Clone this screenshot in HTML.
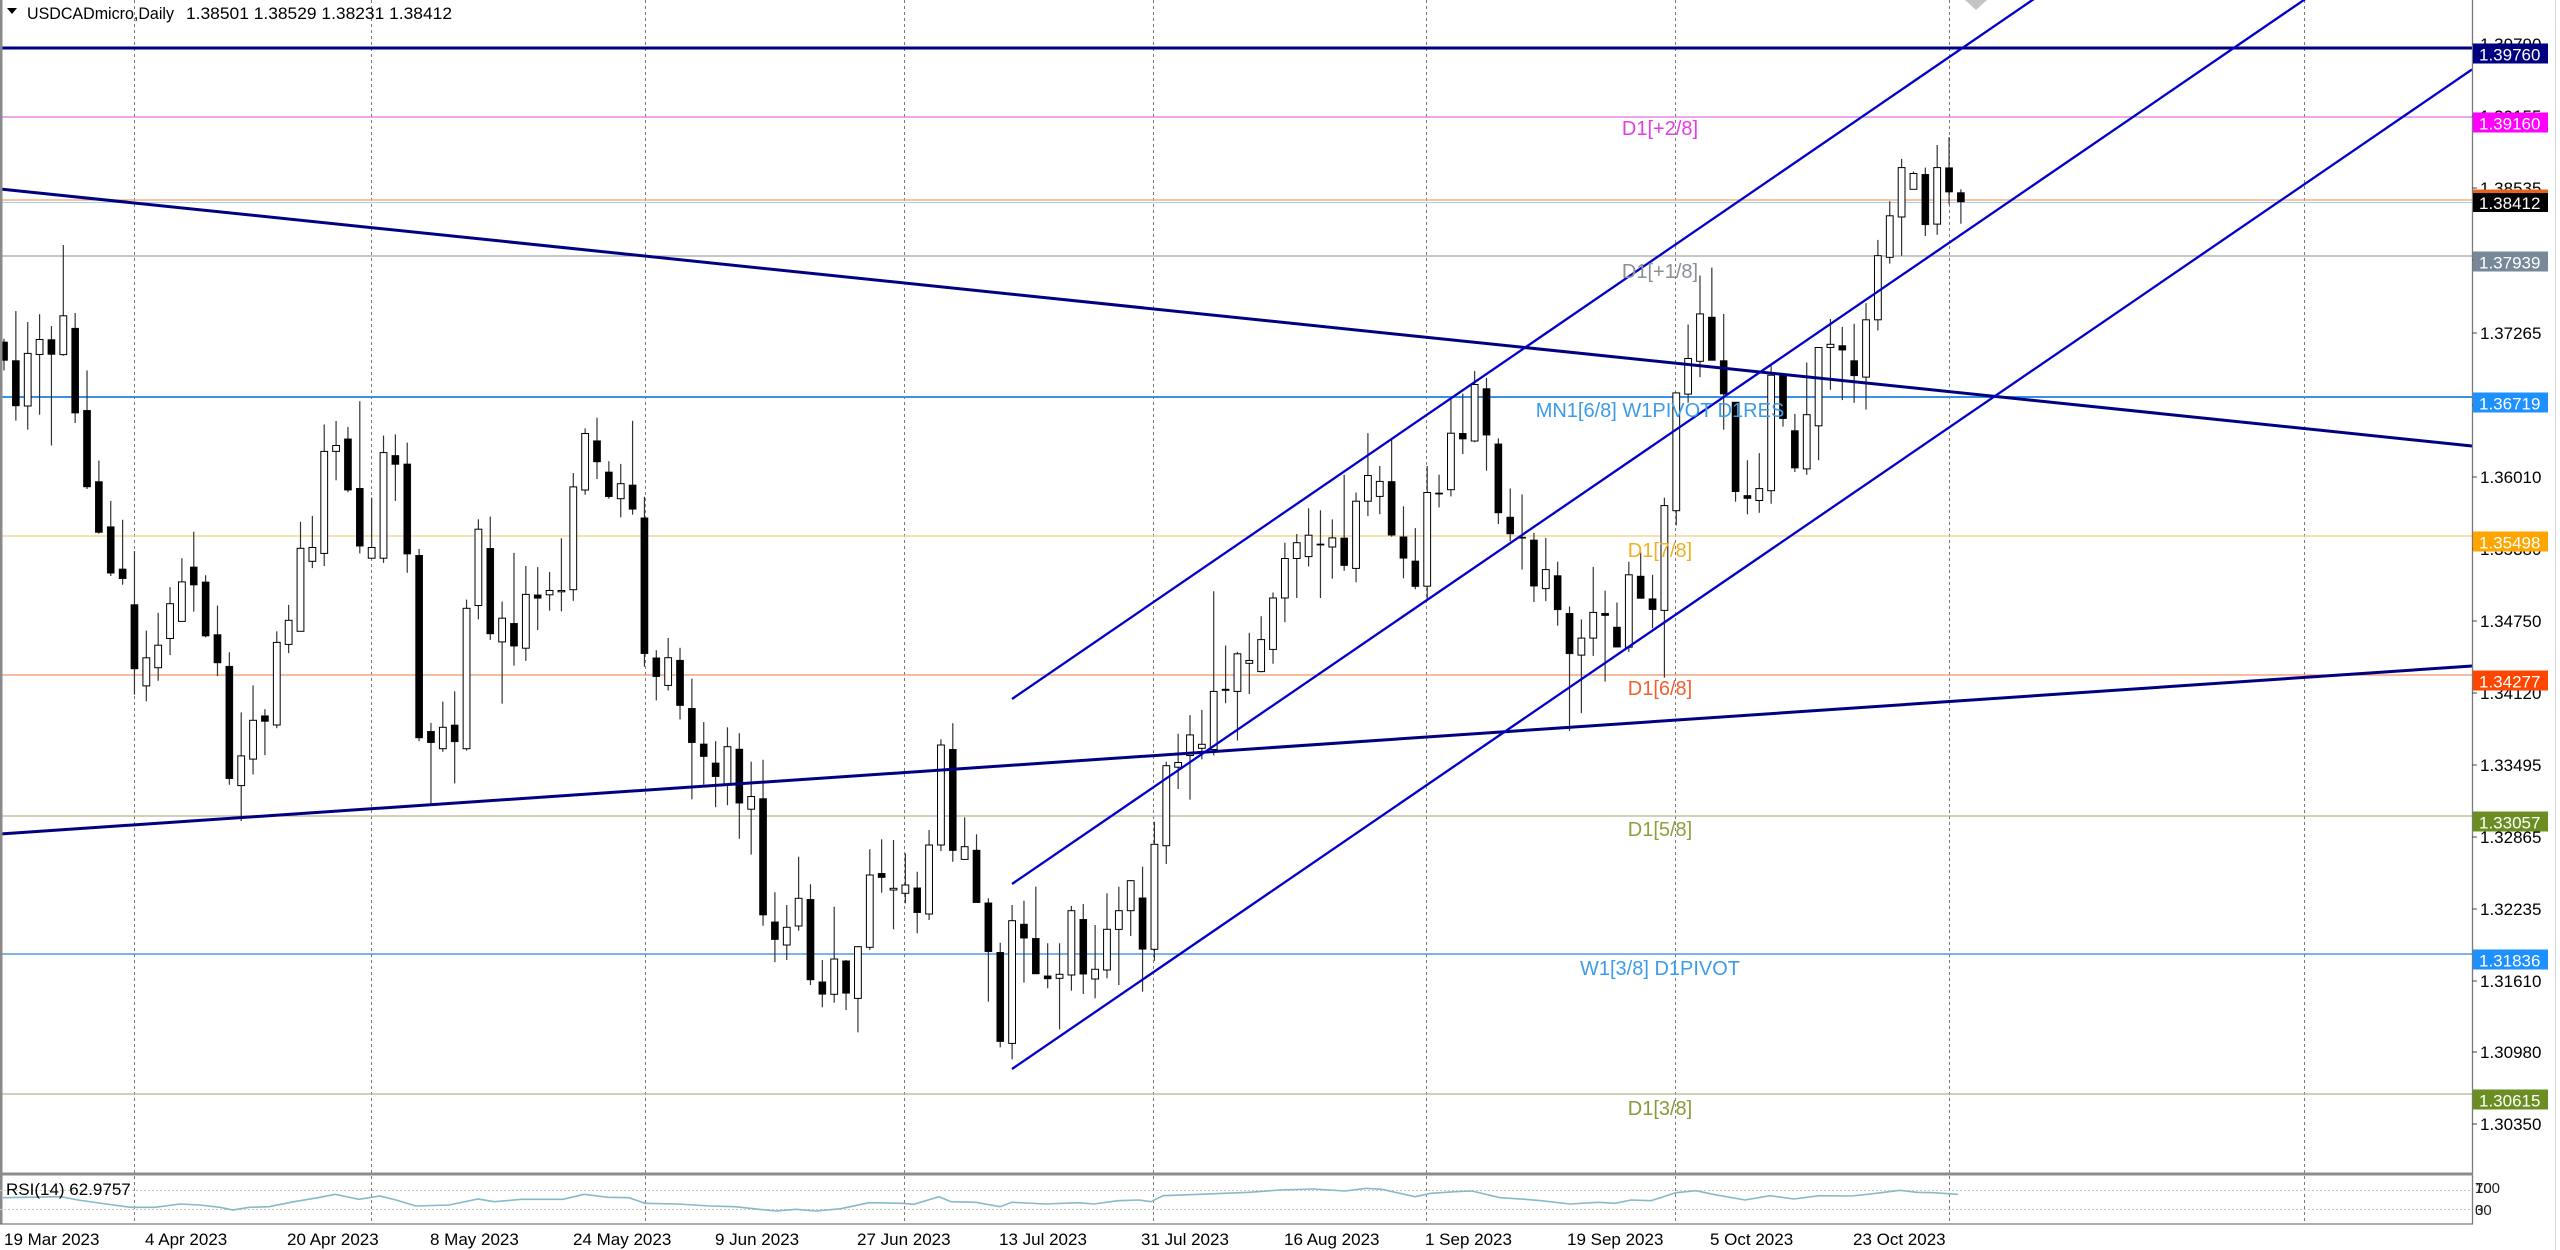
<!DOCTYPE html>
<html><head><meta charset="utf-8"><style>
html,body{margin:0;padding:0;background:#fff;overflow:hidden;width:2560px;height:1250px}
svg{display:block;font-family:"Liberation Sans",Arial,sans-serif}
</style></head><body>
<svg width="2560" height="1250" viewBox="0 0 2560 1250" xmlns="http://www.w3.org/2000/svg">
<rect width="2560" height="1250" fill="#fff"/>
<defs><clipPath id="mc"><rect x="0" y="0" width="2472" height="1172"/></clipPath></defs>

<!-- vertical grid -->
<g stroke="#7a7a7a" stroke-width="1" stroke-dasharray="3,3">
<line x1="134.5" y1="0" x2="134.5" y2="1224"/>
<line x1="371.5" y1="0" x2="371.5" y2="1224"/>
<line x1="645.5" y1="0" x2="645.5" y2="1224"/>
<line x1="904.5" y1="0" x2="904.5" y2="1224"/>
<line x1="1153.5" y1="0" x2="1153.5" y2="1224"/>
<line x1="1426.5" y1="0" x2="1426.5" y2="1224"/>
<line x1="1675.5" y1="0" x2="1675.5" y2="1224"/>
<line x1="1949.5" y1="0" x2="1949.5" y2="1224"/>
<line x1="2304.5" y1="0" x2="2304.5" y2="1224"/>
</g>

<g clip-path="url(#mc)">
<!-- horizontal levels -->
<line x1="0" y1="117" x2="2472" y2="117" stroke="#e070e0" stroke-width="1.2"/>
<line x1="0" y1="200" x2="2472" y2="200" stroke="#f2a070" stroke-width="1.2"/>
<line x1="0" y1="202.5" x2="2472" y2="202.5" stroke="#a8cdef" stroke-width="1"/>
<line x1="0" y1="256" x2="2472" y2="256" stroke="#a4a4a4" stroke-width="1.2"/>
<line x1="0" y1="397" x2="2472" y2="397" stroke="#3a90e6" stroke-width="2"/>
<line x1="0" y1="536" x2="2472" y2="536" stroke="#f0cf80" stroke-width="1.2"/>
<line x1="0" y1="675" x2="2472" y2="675" stroke="#f09468" stroke-width="1.2"/>
<line x1="0" y1="816" x2="2472" y2="816" stroke="#b4b494" stroke-width="1.2"/>
<line x1="0" y1="954" x2="2472" y2="954" stroke="#4a9ae8" stroke-width="1.6"/>
<line x1="0" y1="1094" x2="2472" y2="1094" stroke="#aab890" stroke-width="1.2"/>

<!-- candles -->
<g id="candles" stroke="#333" stroke-width="1.2"></g>

<!-- navy horizontal -->
<line x1="0" y1="48" x2="2472" y2="48" stroke="#000080" stroke-width="3"/>
<!-- long trendlines -->
<line x1="0" y1="189" x2="2472" y2="446" stroke="#000080" stroke-width="3"/>
<line x1="0" y1="834" x2="2472" y2="666" stroke="#000080" stroke-width="3"/>
<!-- channel -->
<g stroke="#0000c8" stroke-width="2.3">
<line x1="1012" y1="699" x2="2050" y2="-12"/>
<line x1="1012" y1="884" x2="2320" y2="-11"/>
<line x1="1012" y1="1069" x2="2472" y2="69.5"/>
</g>
<polygon points="1965,0 1976,10 1987,0" fill="#c4c4c4"/>

<!-- level labels -->
<g font-size="20" text-anchor="middle">
<text x="1660" y="135" fill="#e63ae6">D1[+2/8]</text>
<text x="1660" y="278" fill="#8a9098">D1[+1/8]</text>
<text x="1660" y="417" fill="#3d9be9">MN1[6/8] W1PIVOT D1RES</text>
<text x="1660" y="557" fill="#f0b020">D1[7/8]</text>
<text x="1660" y="695" fill="#f06030">D1[6/8]</text>
<text x="1660" y="836" fill="#8f9f3c">D1[5/8]</text>
<text x="1660" y="975" fill="#3d9be9">W1[3/8] D1PIVOT</text>
<text x="1660" y="1115" fill="#8a9a3a">D1[3/8]</text>
</g>
</g>

<!-- header -->
<polygon points="7,8 17,8 12,14" fill="#000"/>
<text x="27" y="19" font-size="17" fill="#000" textLength="147" lengthAdjust="spacingAndGlyphs">USDCADmicro,Daily</text>
<text x="186" y="19" font-size="17" fill="#000" textLength="266" lengthAdjust="spacingAndGlyphs">1.38501 1.38529 1.38231 1.38412</text>

<!-- borders -->
<rect x="0" y="0" width="2.5" height="1224" fill="#8a8a8a"/>
<line x1="2472.5" y1="0" x2="2472.5" y2="1224" stroke="#7a7a7a" stroke-width="1.3"/>
<line x1="2555.5" y1="0" x2="2555.5" y2="1250" stroke="#d8d8d8" stroke-width="1"/>

<!-- price axis ticks & labels -->
<g stroke="#444" stroke-width="1">
<line x1="2472" y1="44" x2="2477" y2="44"/><line x1="2472" y1="116" x2="2477" y2="116"/>
<line x1="2472" y1="188" x2="2477" y2="188"/><line x1="2472" y1="260" x2="2477" y2="260"/>
<line x1="2472" y1="333" x2="2477" y2="333"/><line x1="2472" y1="405" x2="2477" y2="405"/>
<line x1="2472" y1="477" x2="2477" y2="477"/><line x1="2472" y1="549" x2="2477" y2="549"/>
<line x1="2472" y1="621" x2="2477" y2="621"/><line x1="2472" y1="693" x2="2477" y2="693"/>
<line x1="2472" y1="765" x2="2477" y2="765"/><line x1="2472" y1="837" x2="2477" y2="837"/>
<line x1="2472" y1="909" x2="2477" y2="909"/><line x1="2472" y1="981" x2="2477" y2="981"/>
<line x1="2472" y1="1052" x2="2477" y2="1052"/><line x1="2472" y1="1124" x2="2477" y2="1124"/>
</g>
<g font-size="17" fill="#000">
<text x="2480" y="50">1.39790</text>
<text x="2480" y="122">1.39155</text>
<text x="2480" y="194">1.38535</text>
<text x="2480" y="266">1.37905</text>
<text x="2480" y="339">1.37265</text>
<text x="2480" y="411">1.36640</text>
<text x="2480" y="483">1.36010</text>
<text x="2480" y="555">1.35380</text>
<text x="2480" y="627">1.34750</text>
<text x="2480" y="699">1.34120</text>
<text x="2480" y="771">1.33495</text>
<text x="2480" y="843">1.32865</text>
<text x="2480" y="915">1.32235</text>
<text x="2480" y="987">1.31610</text>
<text x="2480" y="1058">1.30980</text>
<text x="2480" y="1130">1.30350</text>
</g>
<!-- colored price boxes -->
<g font-size="17" fill="#fff">
<rect x="2473" y="43.5" width="75" height="20" fill="#000080"/><text x="2479" y="60.5">1.39760</text>
<rect x="2473" y="112.5" width="75" height="20" fill="#ff00ff"/><text x="2479" y="129.5">1.39160</text>
<rect x="2473" y="189.5" width="75" height="3.5" fill="#e8641e"/>
<rect x="2473" y="193" width="75" height="19" fill="#000"/><text x="2479" y="209">1.38412</text>
<rect x="2473" y="251.5" width="75" height="20" fill="#778899"/><text x="2479" y="268.5">1.37939</text>
<rect x="2473" y="392.5" width="75" height="20" fill="#1e90ff"/><text x="2479" y="409.5">1.36719</text>
<rect x="2473" y="531.5" width="75" height="20" fill="#ffa500"/><text x="2479" y="548.5">1.35498</text>
<rect x="2473" y="670.5" width="75" height="20" fill="#ff4500"/><text x="2479" y="687.5">1.34277</text>
<rect x="2473" y="811.5" width="75" height="20" fill="#6b8e23"/><text x="2479" y="828.5">1.33057</text>
<rect x="2473" y="949.5" width="75" height="20" fill="#1e90ff"/><text x="2479" y="966.5">1.31836</text>
<rect x="2473" y="1089.5" width="75" height="20" fill="#6b8e23"/><text x="2479" y="1106.5">1.30615</text>
</g>

<!-- RSI pane -->
<rect x="0" y="1172.5" width="2473" height="3" fill="#8c8c8c"/>
<line x1="0" y1="1224" x2="2473" y2="1224" stroke="#7a7a7a" stroke-width="1.3"/>
<g stroke="#c8c8c8" stroke-width="1" stroke-dasharray="2,2">
<line x1="0" y1="1190.5" x2="2472" y2="1190.5"/>
<line x1="0" y1="1209.5" x2="2472" y2="1209.5"/>
</g>
<polyline fill="none" stroke="#86b9c9" stroke-width="1.6" points="3,1197.7 61,1196.7 78,1200 106,1204 131,1207.3 155,1207.3 180,1204 200,1205 220,1207.3 233,1210 249,1207.3 269,1206.7 294,1201.7 318,1197.7 335,1194.3 359,1199.3 380,1196 396,1200 416,1206 449,1205 478,1199 494,1201.7 522,1199.3 563,1199.3 584,1194.3 608,1197.3 629,1197.7 645,1203.3 678,1204 710,1206 735,1206.7 759,1209.3 776,1211 796,1209.3 816,1211 841,1208.7 869,1202.7 902,1203.3 914,1204.3 939,1196.7 951,1201.7 976,1202.3 1000,1206.7 1012,1202.3 1045,1204 1078,1202.7 1094,1204 1118,1200.7 1139,1200 1151,1201.7 1163,1195.7 1200,1194.3 1249,1192.3 1280,1190 1313,1189 1345,1191 1366,1188.3 1382,1189.3 1415,1196.7 1431,1193.3 1455,1191.7 1472,1191 1500,1197.7 1525,1199.3 1541,1200.7 1570,1204 1598,1202.3 1615,1203.3 1631,1200 1651,1200.7 1676,1192.7 1696,1190.7 1713,1194.3 1745,1200 1770,1195.7 1794,1199 1819,1195.7 1851,1196 1868,1194.3 1900,1190.3 1917,1192.3 1933,1192.7 1958,1194.3"/>
<text x="6" y="1195" font-size="17" fill="#000">RSI(14) 62.9757</text>
<g font-size="15" fill="#222">
<text x="2475" y="1193">100</text><text x="2475" y="1193">70</text>
<text x="2475" y="1215">30</text><text x="2475" y="1215">0</text>
</g>

<!-- date axis -->
<g font-size="17" fill="#000">
<text x="4" y="1245">19 Mar 2023</text>
<text x="145" y="1245">4 Apr 2023</text>
<text x="287" y="1245">20 Apr 2023</text>
<text x="430" y="1245">8 May 2023</text>
<text x="573" y="1245">24 May 2023</text>
<text x="715" y="1245">9 Jun 2023</text>
<text x="857" y="1245">27 Jun 2023</text>
<text x="999" y="1245">13 Jul 2023</text>
<text x="1141" y="1245">31 Jul 2023</text>
<text x="1284" y="1245">16 Aug 2023</text>
<text x="1425" y="1245">1 Sep 2023</text>
<text x="1567" y="1245">19 Sep 2023</text>
<text x="1710" y="1245">5 Oct 2023</text>
<text x="1853" y="1245">23 Oct 2023</text>
</g>
</svg>
<script>
(function(){
var P=11.86,X0=4;
var G=[
[230,2.529,0,[[0,275,283,330,355],[0,205,330,445,482],[1,233,312,445,505],[1,213,277,315,467],[0,243,277,315,545],[1,38,217,315,318],[0,210,248,463,488],[0,355,456,650,655],[0,583,636,765,768],[0,685,750,868,875],[0,733,857,882,897],[0,812,947,1110,1175],[1,1013,1082,1153,1192],[1,968,1050,1107,1140],[1,903,945,1033,1075],[1,830,890,990,990],[0,763,852,898,965],[0,873,890,1027,1030],[0,950,1023,1095,1128],[0,1068,1103,1388,1403],[1,1220,1330,1405,1495],[1,1152,1240,1338,1377],[0,1212,1228,1243,1328],[1,1015,1043,1252,1260],[1,948,987,1048,1070],[1,738,805,1015,1015],[1,723,803,838,855],[1,492,560,818,850],[1,483,545,560,633],[0,498,528,658,663],[0,433,653,800,818],[1,677,803,830,830],[1,520,563,830,842],[0,517,570,593,685]]],
[390,2.529,34,[[0,133,187,415,462],[0,402,418,880,888],[0,842,863,892,1050],[1,788,853,907,915],[0,762,847,890,995],[1,530,552,907,912],[1,327,352,545,580],[0,320,400,617,632],[1,535,577,637,793],[0,412,590,648,697],[1,445,517,653,685],[0,448,518,527,607],[1,460,507,518,558],[1,375,507,510,560],[1,210,245,505,533],[1,97,110,253,265],[0,70,128,182,225],[0,180,207,270,275],[1,187,237,275,322],[0,78,240,302,315],[0,270,323,667,700],[0,658,677,725,785],[1,627,677,747,760],[0,652,683,798,833],[0,730,805,892,1035],[0,840,895,927,998],[0,888,943,978,1055],[1,853,902,998,1050],[0,868,908,1045,1135],[1,940,1028,1060,1175],[0,935,1033,1328,1355],[0,1270,1345,1390,1447]]],
[620,3,66,[[1,855,922,975,1020],[1,710,835,918,932],[0,793,838,1080,1095],[0,1020,1085,1123,1162],[1,860,1017,1123,1148],[0,1020,1022,1120,1170],[1,978,980,1135,1237],[1,688,765,982,990],[0,658,760,773,818],[1,660,805,810,928],[1,700,795,820,850],[0,755,803,878,940],[1,630,675,882,900],[1,358,375,675,693],[0,310,388,692,725],[1,592,680,718,718],[0,643,690,848,848],[0,835,848,995,1145],[0,968,997,1265,1282],[1,855,902,1270,1318],[0,842,912,955,1088],[0,800,955,1062,1062],[0,970,1067,1077,1105],[1,970,1063,1075,1228],[1,858,872,1065,1112],[0,852,898,1063,1122],[1,915,1048,1077,1135],[1,820,928,1050,1075],[1,800,872,928,1095],[1,780,782,872,948],[0,740,833,988,1115],[1,605,673,988,1022],[1,425,437,677,732]]],
[360,2.529,99,[[1,945,1018,1030,1085],[1,898,948,1000,1112],[1,885,972,982,1010],[1,585,838,985,1000],[0,722,832,836,868],[1,738,743,838,962],[1,690,760,767,845],[1,648,707,788,790],[1,588,602,732,768],[1,462,502,602,663],[1,440,462,502,602],[1,375,443,497,522],[0,380,465,467,602],[1,403,450,473,553],[0,290,450,520,533],[1,335,357,527,562],[1,185,292,357,395],[1,268,307,345,390],[0,200,307,443,447],[0,370,447,502,552],[0,425,508,573,580],[1,268,335,572,605],[0,290,336,339,373],[1,95,185,328,345],[0,85,185,200,238],[1,28,62,205,208],[0,45,72,190,280],[0,198,212,387,415],[0,325,397,440,458],[0,340,448,451,530],[0,437,455,572,612],[1,450,530,578,610],[0,510,545,632,672]]],
[130,2.529,132,[[0,1205,1222,1325,1520],[1,1238,1285,1328,1475],[1,1105,1220,1285,1330],[0,1165,1222,1228,1395],[0,1195,1257,1308,1308],[1,1092,1125,1308,1320],[0,1068,1128,1185,1185],[0,1125,1185,1213,1260],[1,930,950,1215,1385],[1,665,665,963,1000],[1,492,578,668,690],[1,368,465,585,625],[0,348,473,583,583],[0,465,583,668,758],[0,688,688,915,940],[0,835,924,932,972],[1,817,907,937,968],[1,597,620,912,945],[0,620,620,730,750],[0,718,760,855,865],[1,588,720,857,872],[1,550,550,748,835],[1,478,542,550,657],[0,498,545,557,683],[0,490,583,622,690],[1,438,480,625,707],[1,278,318,480,507],[1,180,217,322,338],[1,73,95,220,318],[1,105,110,150,150],[0,95,112,240,268],[1,38,95,238,265],[0,18,95,157,188],[0,150,158,182,237]]]
];
var s='';
for(var g=0;g<G.length;g++){
 var y0=G[g][0],f=G[g][1],st=G[g][2],d=G[g][3];
 for(var k=0;k<d.length;k++){
  var c=d[k],i=st+k,x=(X0+P*i).toFixed(2);
  var wt=(y0+c[1]/f).toFixed(1),bt=y0+c[2]/f,bb=y0+c[3]/f,wb=(y0+c[4]/f).toFixed(1);
  var h=Math.max(bb-bt,1.3);
  s+='<line x1="'+x+'" y1="'+wt+'" x2="'+x+'" y2="'+wb+'"/>';
  if(c[0]) s+='<rect x="'+(x-3.4).toFixed(2)+'" y="'+bt.toFixed(1)+'" width="6.8" height="'+h.toFixed(1)+'" fill="#fff" stroke="#000" stroke-width="1"/>';
  else s+='<rect x="'+(x-3.6).toFixed(2)+'" y="'+bt.toFixed(1)+'" width="7.2" height="'+h.toFixed(1)+'" fill="#000" stroke="#000" stroke-width="0.4"/>';
 }
}
document.getElementById('candles').innerHTML=s;
})();
</script>
</body></html>
